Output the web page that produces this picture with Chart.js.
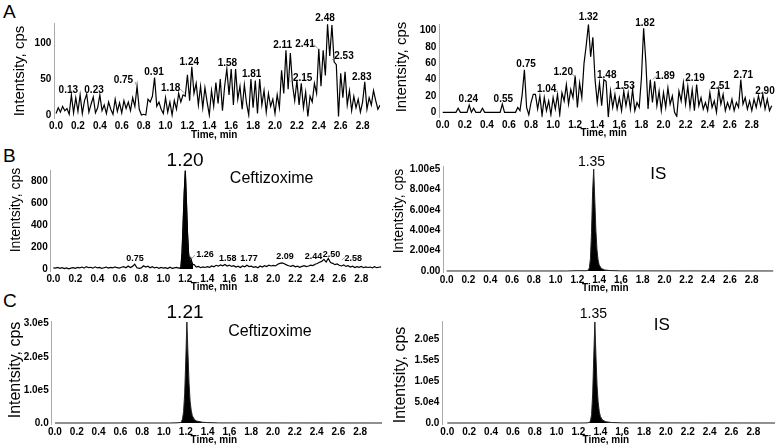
<!DOCTYPE html>
<html>
<head>
<meta charset="utf-8">
<script src="https://cdn.jsdelivr.net/npm/chart.js@4.4.1/dist/chart.umd.min.js"></script>
<style>
  body { margin: 0; background: #fff; }
  #fig { position: relative; width: 780px; height: 447px; overflow: hidden; font-family: 'Liberation Sans', Arial, sans-serif; }
  #fig canvas { position: absolute; }
  .tag { position: absolute; font-size: 19px; line-height: 1; color: #000; }
</style>
</head>
<body>
<div id="fig">
  <div class="tag" style="left:3px;top:2px">A</div>
  <div class="tag" style="left:3px;top:146px">B</div>
  <div class="tag" style="left:3px;top:291px">C</div>
</div>
<script>
// sampling step of the noisy traces (min)
const sampleStep = 0.02;

// tick values
const timeTicks = [0, 0.2, 0.4, 0.6, 0.8, 1.0, 1.2, 1.4, 1.6, 1.8, 2.0, 2.2, 2.4, 2.6, 2.8];
const blankDrugTicks = [0, 50, 100];
const blankIsTicks = [0, 20, 40, 60, 80, 100];
const lloqDrugTicks = [0, 200, 400, 600, 800];
const lloqIsTicks = [0, 20000, 40000, 60000, 80000, 100000];
const sampleDrugTicks = [0, 100000, 200000, 300000];
const sampleIsTicks = [0, 50000, 100000, 150000, 200000];

// A, blank plasma: ceftizoxime channel (cps)
const blankDrugCps = [
  2, 10, 4, 12, 6, 9, 1, 28, 3, 24,
  5, 28, 2, 20, 29, 4, 15, 25, 3, 10,
  28, 6, 14, 2, 18, 8, 1, 22, 5, 17,
  3, 20, 9, 18, 6, 24, 12, 40, 8, 0,
  1, 0, 22, 18, 26, 52, 12, 18, 8, 2,
  24, 4, 18, 0, 20, 8, 30, 18, 28, 26,
  56, 20, 67, 30, 44, 14, 40, 10, 38, 18,
  0, 34, 12, 45, 16, 50, 6, 40, 64, 28,
  64, 14, 64, 22, 40, 8, 42, 16, 0, 50,
  10, 48, 2, 50, 14, 34, 4, 30, 12, 22,
  2, 28, 10, 62, 30, 90, 36, 86, 42, 20,
  48, 14, 44, 10, 32, -2, 26, 18, 44, 30,
  92, 40, 90, 55, 126, 82, 125, 74, 70, -2,
  58, 24, 60, 14, 34, 6, 26, 10, 22, 4,
  18, 46, 8, 24, 14, 34, 20, 8, 14, 6
];

// A, blank plasma: IS channel (cps)
const blankIsCps = [
  0, 0, 0, 0, 0, 0, 0, 5, 0, 0,
  0, 0, 9, 0, 5, 0, 0, 0, 5, 0,
  0, 0, 0, 0, 0, 0, 0, 10, 0, 0,
  0, 0, 0, 0, 6, 2, 22, 52, 6, -3,
  12, 22, 22, 4, 20, -4, 18, 2, 14, -3,
  18, 4, 22, -3, 24, 14, 34, 10, 28, 18,
  45, 6, 36, 18, 60, 82, 108, 68, 92, 40,
  12, 36, 8, 40, 38, -6, 26, 6, 22, 4,
  18, 2, 26, 8, 24, 4, 28, 2, 12, 6,
  42, 103, 62, 4, 40, 12, 38, 8, 26, 2,
  24, 6, 30, 10, 20, 0, -5, 26, 14, 36,
  10, 32, 6, 28, 2, 34, 8, 18, 4, 12,
  2, 24, 6, 14, 0, 28, 10, 22, 2, 12,
  4, 16, 2, 12, 6, 40, 10, 18, 4, 14,
  2, 16, 6, 20, 8, 22, 4, 16, 2, 8
];

// B, LLOQ: ceftizoxime baseline (cps) and its main peak
const lloqDrugCps = [
  10, 8, 14, 6, 12, 4, 10, 2, 8, 12,
  6, 14, 10, 18, 8, 22, 12, 16, 8, 20,
  10, 14, 6, 12, 18, 8, 14, 10, 20, 12,
  8, 16, 22, 12, 28, 14, 24, 45, 12, 6,
  10, 30, 18, 26, 12, 22, 10, 16, 6, 14,
  8, 12, 4, 16, 6, 10, 14, 8, 0, 0,
  0, 0, 0, 0, 40, 18, 24, 12, 20, 14,
  22, 16, 28, 20, 34, 26, 38, 30, 42, 28,
  36, 24, 30, 18, 26, 14, 28, 20, 34, 22,
  26, 16, 22, 12, 28, 18, 30, 22, 36, 28,
  34, 28, 44, 52, 56, 48, 38, 30, 24, 32,
  20, 26, 16, 24, 30, 22, 28, 36, 32, 44,
  50, 62, 70, 88, 64, 96, 60, 52, 40, 46,
  34, 28, 38, 24, 30, 18, 26, 14, 22, 16,
  24, 12, 20, 14, 18, 10, 22, 12, 16, 20
];
const lloqPeakMin = [1.15, 1.16, 1.17, 1.18, 1.19, 1.20, 1.21, 1.22, 1.23, 1.24, 1.25, 1.26, 1.27];
const lloqPeakCps = [8, 20, 150, 420, 700, 900, 620, 330, 140, 70, 100, 60, 40];

// B, LLOQ: IS
const lloqIsMin = [0, 1.10, 1.20, 1.28, 1.30, 1.31, 1.32, 1.33, 1.34, 1.35, 1.36, 1.37, 1.38, 1.39, 1.40, 1.42, 1.45, 1.50, 1.60, 3.0];
const lloqIsCps = [0, 0, 300, 200, 800, 3000, 12000, 38000, 78000, 100000, 70000, 40000, 21000, 11000, 6000, 2500, 1000, 400, 100, 0];

// C, patient sample: ceftizoxime and IS
const sampleDrugMin = [0, 1.05, 1.12, 1.15, 1.16, 1.17, 1.18, 1.19, 1.20, 1.21, 1.22, 1.23, 1.24, 1.25, 1.26, 1.28, 1.30, 1.35, 1.40, 1.50, 3.0];
const sampleDrugCps = [0, 0, 500, 1500, 4000, 12000, 35000, 90000, 190000, 305000, 210000, 120000, 65000, 38000, 22000, 10000, 6000, 2500, 1200, 300, 0];
const sampleIsMin = [0, 1.20, 1.28, 1.30, 1.31, 1.32, 1.33, 1.34, 1.35, 1.36, 1.37, 1.38, 1.39, 1.40, 1.42, 1.45, 1.50, 1.60, 3.0];
const sampleIsCps = [0, 0, 300, 1500, 5000, 20000, 70000, 160000, 243000, 160000, 90000, 50000, 28000, 16000, 7000, 3000, 1200, 300, 0];

// peak labels: [text, time, intensity where the label sits]
const blankDrugLabels = [['0.13', 0.112, 35], ['0.23', 0.347, 35], ['0.75', 0.615, 47.6], ['0.91', 0.895, 59.3],
  ['1.18', 1.047, 37], ['1.24', 1.217, 73.2], ['1.58', 1.565, 71.8], ['1.81', 1.787, 56.9], ['2.11', 2.07, 97.2],
  ['2.15', 2.253, 50.9], ['2.41', 2.274, 98.6], ['2.48', 2.457, 134.3], ['2.53', 2.63, 81], ['2.83', 2.792, 51.8]];
const blankIsLabels = [['0.24', 0.232, 15.9], ['0.55', 0.549, 15.9], ['0.75', 0.755, 58.8], ['1.04', 0.942, 28.2],
  ['1.20', 1.092, 48.5], ['1.32', 1.32, 116.4], ['1.48', 1.486, 45.7], ['1.53', 1.651, 31.4], ['1.82', 1.832, 109],
  ['1.89', 2.014, 44.5], ['2.19', 2.285, 41.7], ['2.51', 2.512, 32.2], ['2.71', 2.723, 45.7], ['2.90', 2.919, 25.2]];
const lloqDrugLabels = [['0.75', 0.743, 98], ['1.26', 1.379, 137], ['1.58', 1.585, 98], ['1.77', 1.778, 98],
  ['2.09', 2.106, 112], ['2.44', 2.366, 119], ['2.50', 2.53, 137], ['2.58', 2.727, 98]];

function toPoints(times, values) {
  return times.map((t, i) => ({ x: t, y: values[i] }));
}
function gridPoints(values) {
  return values.map((v, i) => ({ x: +(i * sampleStep).toFixed(2), y: v }));
}

const smallFont = 'bold 10px "Liberation Sans", Arial, sans-serif';
const tinyFont = 'bold 9px "Liberation Sans", Arial, sans-serif';
const bigFont = '19px "Liberation Sans", Arial, sans-serif';
const nameFont = '16px "Liberation Sans", Arial, sans-serif';
const isFont = '17px "Liberation Sans", Arial, sans-serif';
const rtFont = '14px "Liberation Sans", Arial, sans-serif';

const fig = document.getElementById('fig');

function textPlugin(p) {
  return {
    id: 'panelText',
    afterDraw(chart) {
      const { ctx, chartArea, scales: { x, y } } = chart;
      ctx.save();
      ctx.strokeStyle = '#888';
      ctx.lineWidth = 0.8;
      (p.leaders || []).forEach(l => {
        ctx.beginPath();
        ctx.moveTo(x.getPixelForValue(l[0]), y.getPixelForValue(l[1]));
        ctx.lineTo(x.getPixelForValue(l[2]), y.getPixelForValue(l[3]));
        ctx.stroke();
      });
      ctx.fillStyle = '#000';
      ctx.textAlign = 'center';
      ctx.textBaseline = 'middle';
      (p.labels || []).forEach(l => {
        ctx.font = l[3] || p.labelFont || smallFont;
        ctx.fillText(l[0], x.getPixelForValue(l[1]), y.getPixelForValue(l[2]));
      });
      ctx.font = 'bold 10px "Liberation Sans", Arial, sans-serif';
      ctx.fillText('Time, min', (chartArea.left + chartArea.right) / 2 - 3, chartArea.bottom + 16.5);
      ctx.translate(p.yTitle[0] - p.box[0], p.yTitle[1] - p.box[1]);
      ctx.rotate(-Math.PI / 2);
      ctx.font = p.yTitle[2] + 'px "Liberation Sans", Arial, sans-serif';
      ctx.fillText('Intentsity, cps', 0, 0);
      ctx.restore();
    }
  };
}

function makePanel(p) {
  const [bx, by, bw, bh] = p.box;
  const canvas = document.createElement('canvas');
  canvas.width = bw;
  canvas.height = bh;
  canvas.style.left = bx + 'px';
  canvas.style.top = by + 'px';
  fig.appendChild(canvas);

  new Chart(canvas, {
    type: 'line',
    data: { datasets: p.datasets },
    options: {
      responsive: false,
      animation: false,
      devicePixelRatio: 1,
      layout: { padding: { top: p.area.top - by, right: bx + bw - p.area.right, left: 0, bottom: 0 } },
      plugins: { legend: { display: false }, tooltip: { enabled: false } },
      elements: { point: { radius: 0 }, line: { tension: 0 } },
      scales: {
        x: {
          type: 'linear', min: p.x[0], max: p.x[1],
          grid: { display: false, drawTicks: false },
          border: { display: false },
          ticks: {
            autoSkip: false, maxRotation: 0, padding: 2,
            color: '#000', font: { size: 10, weight: 'bold' },
            callback: v => v.toFixed(1)
          },
          afterBuildTicks: s => { s.ticks = timeTicks.map(v => ({ value: v })); },
          afterFit: s => { s.height = by + bh - p.area.bottom; }
        },
        y: {
          min: p.y[0], max: p.y[1],
          grid: { display: false, drawTicks: false },
          border: { display: true, color: '#aaa', width: 1 },
          ticks: {
            padding: 3, autoSkip: false,
            color: '#000', font: { size: 10, weight: 'bold' },
            callback: p.fmt
          },
          afterBuildTicks: s => { s.ticks = p.ticks.map(v => ({ value: v })); },
          afterFit: s => { s.width = p.area.left - bx; }
        }
      }
    },
    plugins: [textPlugin(p)]
  });
}

const trace = data => ({ data, borderColor: '#000', borderWidth: 1.2, fill: false });
const filled = data => ({ data, borderColor: '#222', borderWidth: 1, backgroundColor: '#000', fill: 'origin' });
const sci = digits => v => (v === 0 ? (0).toFixed(digits) : v.toExponential(digits).replace('+', ''));

Chart.defaults.font.family = '"Liberation Sans", Arial, sans-serif';

const lloqPeakStart = lloqPeakMin[0];
const lloqPeakEnd = lloqPeakMin[lloqPeakMin.length - 1];
const lloqTrace = gridPoints(lloqDrugCps)
  .filter(pt => pt.x < lloqPeakStart || pt.x > lloqPeakEnd)
  .concat(toPoints(lloqPeakMin, lloqPeakCps))
  .sort((a, b) => a.x - b.x);

makePanel({
  box: [0, 0, 390, 145],
  area: { left: 54.3, right: 380.1, top: 23.6, bottom: 118.6 },
  x: [-0.016, 2.96], y: [-5, 127], ticks: blankDrugTicks, fmt: v => String(v),
  datasets: [trace(gridPoints(blankDrugCps))],
  labels: blankDrugLabels,
  leaders: [[0.721, 46, 0.737, 40], [1.132, 36, 1.178, 30], [2.137, 46.3, 2.183, 51],
    [2.35, 98.6, 2.39, 92.6], [2.518, 76.4, 2.557, 81]],
  yTitle: [19.5, 71, 15]
});

makePanel({
  box: [390, 0, 390, 145],
  area: { left: 439.4, right: 773.9, top: 24.2, bottom: 117.2 },
  x: [-0.03, 3.0], y: [-6, 108], ticks: blankIsTicks, fmt: v => String(v),
  datasets: [trace(gridPoints(blankIsCps))],
  labels: blankIsLabels,
  leaders: [[1.017, 27.3, 1.047, 23.3], [1.168, 46.9, 1.207, 43.6], [1.545, 27.3, 1.591, 31.4],
    [1.902, 40.4, 1.938, 44.5], [2.204, 37.5, 2.24, 41.7]],
  yTitle: [402, 67, 15]
});

makePanel({
  box: [0, 145, 390, 150],
  area: { left: 50.7, right: 383.3, top: 170, bottom: 271.2 },
  x: [-0.024, 3.0], y: [-20, 907], ticks: lloqDrugTicks, fmt: v => String(v),
  datasets: [trace(lloqTrace), filled(toPoints(lloqPeakMin, lloqPeakCps))],
  labels: lloqDrugLabels.concat([['1.20', 1.198, 990, bigFont], ['Ceftizoxime', 1.985, 831, nameFont]]),
  labelFont: tinyFont,
  leaders: [[1.243, 82, 1.288, 128], [2.622, 82, 2.652, 107]],
  yTitle: [16.5, 210, 14]
});

makePanel({
  box: [390, 145, 390, 150],
  area: { left: 443.3, right: 773.4, top: 166.2, bottom: 272 },
  x: [-0.031, 3.0], y: [-1000, 103000], ticks: lloqIsTicks, fmt: sci(2),
  datasets: [filled(toPoints(lloqIsMin, lloqIsCps))],
  labels: [['1.35', 1.33, 106500, rtFont], ['IS', 1.943, 95100, isFont]],
  yTitle: [399.5, 211, 14]
});

makePanel({
  box: [0, 295, 390, 152],
  area: { left: 51.7, right: 382, top: 321.7, bottom: 424 },
  x: [-0.03, 3.0], y: [-3000, 306000], ticks: sampleDrugTicks, fmt: sci(1),
  datasets: [filled(toPoints(sampleDrugMin, sampleDrugCps))],
  labels: [['1.21', 1.193, 333000, bigFont], ['Ceftizoxime', 1.972, 276000, nameFont]],
  yTitle: [15.5, 370, 16]
});

makePanel({
  box: [390, 295, 390, 152],
  area: { left: 442.4, right: 775.2, top: 321.8, bottom: 424 },
  x: [-0.045, 3.0], y: [-2400, 243000], ticks: sampleIsTicks, fmt: sci(1),
  datasets: [filled(toPoints(sampleIsMin, sampleIsCps))],
  labels: [['1.35', 1.336, 261700, rtFont], ['IS', 1.962, 235300, isFont]],
  yTitle: [401, 375, 16]
});
</script>
</body>
</html>
